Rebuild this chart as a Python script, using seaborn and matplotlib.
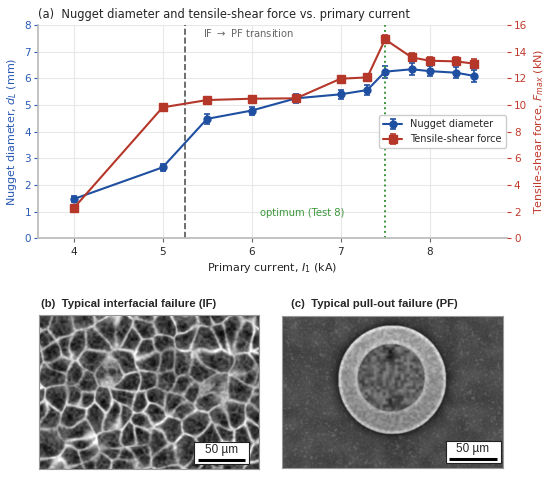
import numpy as np
import matplotlib
matplotlib.use('Agg')
import matplotlib.pyplot as plt
import seaborn as sns

# Daten
current = [4, 5, 5.5, 6, 6.5, 7, 7.3, 7.5, 7.8, 8, 8.3, 8.5]
nugget = [1.47, 2.66, 4.48, 4.79, 5.25, 5.40, 5.56, 6.25, 6.34, 6.27, 6.21, 6.09]
nugget_err = [0.12, 0.12, 0.20, 0.15, 0.18, 0.17, 0.20, 0.22, 0.22, 0.20, 0.20, 0.22]
force = [2.25, 9.82, 10.37, 10.47, 10.50, 11.97, 12.07, 14.92, 13.57, 13.32, 13.27, 13.10]
force_err = [0.15, 0.20, 0.20, 0.20, 0.25, 0.20, 0.25, 0.30, 0.30, 0.30, 0.30, 0.35]

transition_current = 5.25
optimum_current = 7.5

left_ticks = [0, 1, 2, 3, 4, 5, 6, 7, 8]
right_ticks = [0, 2, 4, 6, 8, 10, 12, 14, 16]
x_ticks = [4, 5, 6, 7, 8]

BLUE = '#1f4fa0'
RED = '#b5372a'
GREEN = '#3a963a'

sns.set_theme(style='whitegrid')
plt.rcParams['font.family'] = ['DejaVu Sans']


def hash2(a, b):
    # deterministische Pseudo-Textur fuer die REM-Bilder
    v = np.sin(a * 12.9898 + b * 78.233) * 43758.5453
    return v - np.floor(v)


def vnoise(x, y, scale, salt):
    gx, gy = x / scale, y / scale
    ix, iy = np.floor(gx), np.floor(gy)
    fx, fy = gx - ix, gy - iy
    fx = fx * fx * (3 - 2 * fx)
    fy = fy * fy * (3 - 2 * fy)
    a = hash2(ix + salt, iy)
    b = hash2(ix + 1 + salt, iy)
    c = hash2(ix + salt, iy + 1)
    d = hash2(ix + 1 + salt, iy + 1)
    return (a * (1 - fx) + b * fx) * (1 - fy) + (c * (1 - fx) + d * fx) * fy


def blur(img, n=1):
    for _ in range(n):
        img = (img + np.roll(img, 1, 0) + np.roll(img, -1, 0)
               + np.roll(img, 1, 1) + np.roll(img, -1, 1)) / 5.0
    return img


def voronoi_edges(xd, yd, cols, rows, cell, salt):
    f1 = np.full(xd.shape, 1e9)
    f2 = np.full(xd.shape, 1e9)
    for i in range(-1, cols + 1):
        for j in range(-1, rows + 1):
            sx = (i + 0.5 + 1.0 * (hash2(i + salt, j) - 0.5)) * cell
            sy = (j + 0.5 + 1.0 * (hash2(j + salt * 3, i + 7) - 0.5)) * cell
            d = np.hypot(xd - sx, yd - sy)
            f2 = np.where(d < f1, f1, np.minimum(f2, d))
            f1 = np.minimum(f1, d)
    return f1, f2


# Bild (b): Wabenbruch
Hb, Wb = 308, 440
yy, xx = np.mgrid[0:Hb, 0:Wb].astype(float)
xd, yd = xx / 2.0, yy / 2.0
xw = xd + 9 * (vnoise(xd, yd, 16, 2.0) - 0.5)
yw = yd + 9 * (vnoise(xd, yd, 16, 8.0) - 0.5)
f1, f2 = voronoi_edges(xw, yw, 12, 9, 19.0, 1.3)
g1, g2 = voronoi_edges(xw, yw, 22, 16, 10.0, 5.1)
noise = hash2(xx, yy)
fine = vnoise(xd, yd, 2.5, 4.0)
mod = vnoise(xd, yd, 18, 6.0)
img_b = (0.12 + 0.20 * np.clip(f1 / 14.0, 0, 1)
         + (0.25 + 0.5 * mod ** 1.5) * np.exp(-((f2 - f1) / 2.6) ** 2)
         + 0.16 * np.exp(-((g2 - g1) / 1.6) ** 2) * vnoise(xd, yd, 9, 3.0)
         + 0.24 * (fine - 0.5) + 0.14 * (noise - 0.5))
img_b = np.clip(blur(img_b, 1), 0, 1)

# Bild (c): Ausknoepfbruch
Hc, Wc = 304, 442
yy, xx = np.mgrid[0:Hc, 0:Wc].astype(float)
xd, yd = xx / 2.0, yy / 2.0
noise = hash2(xx, yy)
speck = vnoise(xd, yd, 1.6, 11.0)
blot = vnoise(xd, yd, 12, 13.0)
img_c = (0.29 + 0.14 * (noise - 0.5) + 0.55 * np.clip(speck - 0.72, 0, 1)
         + 0.08 * (blot - 0.5))
cx, cy, r = 110.0, 64.0, 54.0
d = np.hypot(xd - cx, yd - cy)
halo = np.where(d > r, 1 - 0.6 * np.exp(-(d - r) / 5.0), 1.0)
img_c = img_c * halo
hx, hy, hr = 109.0, 62.0, 33.5
dh = np.hypot(xd - hx, yd - hy)
ring = (d <= r) & (dh > hr)
ang = np.arctan2(yd - cy, xd - cx)
ring_val = (0.58 + 0.24 * np.exp(-((d - r + 1.5) / 1.8) ** 2)
            + 0.12 * np.exp(-((dh - hr - 2) / 2.0) ** 2)
            - 0.06 * np.sin(ang) + 0.18 * (vnoise(xd, yd, 2.0, 17.0) - 0.5)
            + 0.10 * (noise - 0.5))
img_c = np.where(ring, ring_val, img_c)
hole = dh <= hr
hole_val = (0.38 + 0.30 * (vnoise(xd, yd, 3.0, 21.0) - 0.5)
            + 0.10 * (noise - 0.5))
hole_val = hole_val - 0.28 * np.exp(-((xd - 108) ** 2 + (yd - 38) ** 2) / 25.0)
hole_val = hole_val - 0.18 * np.exp(-((xd - 112) ** 2 + (yd - 88) ** 2) / 40.0)
img_c = np.where(hole, hole_val, img_c)
img_c = np.clip(blur(img_c, 1), 0, 1)

fig = plt.figure(figsize=(5.5, 4.78), dpi=100)

# (a) Linienplot mit zwei y-Achsen
ax = fig.add_axes([0.0691, 0.5015, 0.8527, 0.4462])
ax2 = ax.twinx()

ax.errorbar(current, nugget, yerr=nugget_err, fmt='-o', color=BLUE, lw=1.5,
            ms=5, capsize=2.5, elinewidth=1.2, capthick=1.2, label='Nugget diameter')
ax2.errorbar(current, force, yerr=force_err, fmt='-s', color=RED, lw=1.5,
             ms=5.5, capsize=2.5, elinewidth=1.2, capthick=1.2, label='Tensile-shear force')

ax.axvline(transition_current, color='#555555', ls='--', lw=1.2)
ax.axvline(optimum_current, color=GREEN, ls=':', lw=1.4)
ax.text(transition_current + 0.2, 7.7, 'IF $\\rightarrow$ PF transition', color='#666666',
        fontsize=7.2, ha='left', va='center')
ax.text(7.04, 0.94, 'optimum (Test 8)', color=GREEN, fontsize=7.2, ha='right', va='center')

ax.set_xlim(3.6, 8.87)
ax.set_ylim(0, 8)
ax2.set_ylim(0, 16)
ax.set_xticks(x_ticks)
ax.set_yticks(left_ticks)
ax2.set_yticks(right_ticks)
ax2.grid(False)
ax.grid(True, color='#e8e8e8', lw=0.8)

ax.set_xlabel('Primary current, $I_1$ (kA)', fontsize=8, labelpad=3)
ax.set_ylabel('Nugget diameter, $d_L$ (mm)', fontsize=8, color='#2a5ab5', labelpad=4)
ax2.set_ylabel('Tensile-shear force, $F_{max}$ (kN)', fontsize=8, color='#c0392b', labelpad=4)
ax.set_title('(a)  Nugget diameter and tensile-shear force vs. primary current',
             loc='left', fontsize=8.3, pad=5)

ax.tick_params(axis='x', bottom=True, length=3, width=0.8, color='#666666',
               labelsize=7.5, pad=3)
ax.tick_params(axis='y', left=True, length=3, width=0.8, color='#2a5ab5',
               labelcolor='#2a5ab5', labelsize=7.5, pad=2)
ax2.tick_params(axis='y', right=True, length=3, width=0.8, color='#c0392b',
                labelcolor='#c0392b', labelsize=7.5, pad=2)

for a in (ax, ax2):
    a.spines['top'].set_visible(False)
    a.spines['right'].set_visible(False)
    a.spines['left'].set_color('#bbbbbb')
    a.spines['bottom'].set_color('#bbbbbb')
ax2.spines['left'].set_visible(False)
ax2.spines['bottom'].set_visible(False)

h1, l1 = ax.get_legend_handles_labels()
h2, l2 = ax2.get_legend_handles_labels()
ax2.legend(h1 + h2, l1 + l2, loc='center right', bbox_to_anchor=(0.997, 0.50),
           borderaxespad=0, fontsize=7, frameon=True, framealpha=1,
           edgecolor='#cccccc', fancybox=True, handlelength=2.0)

# (b) und (c) REM-Bilder
title_font = ['Liberation Sans Narrow', 'Liberation Sans', 'DejaVu Sans']
panels = [
    ([0.0709, 0.0188, 0.4000, 0.3222], img_b, '(b)  Typical interfacial failure (IF)', 41,
     (0.705, 0.033, 0.25, 0.142)),
    ([0.5127, 0.0209, 0.4018, 0.3180], img_c, '(c)  Typical pull-out failure (PF)', 291,
     (0.740, 0.033, 0.249, 0.145)),
]
for rect, img, title, tx, box in panels:
    axi = fig.add_axes(rect)
    axi.imshow(img, cmap='gray', vmin=0, vmax=1, extent=[0, 1, 0, 1],
               aspect='auto', interpolation='bilinear')
    axi.set_xticks([])
    axi.set_yticks([])
    axi.grid(False)
    for s in axi.spines.values():
        s.set_color('#999999')
        s.set_linewidth(0.8)
        s.set_visible(True)
    bx, by, bw, bh = box
    axi.add_patch(plt.Rectangle((bx, by), bw, bh, facecolor='white',
                                edgecolor='#222222', lw=0.8, zorder=3))
    axi.text(bx + bw / 2, by + bh * 0.62, '50 µm', ha='center', va='center',
             fontsize=8.5, family=title_font, zorder=4)
    axi.plot([bx + bw * 0.07, bx + bw * 0.93], [by + bh * 0.2, by + bh * 0.2],
             color='black', lw=2.2, zorder=4, solid_capstyle='butt')
    fig.text(tx / 550, 1 - 304 / 478, title, ha='left', va='center',
             fontsize=8.2, fontweight='bold', family=title_font)

fig.savefig('out.png', dpi=100)
